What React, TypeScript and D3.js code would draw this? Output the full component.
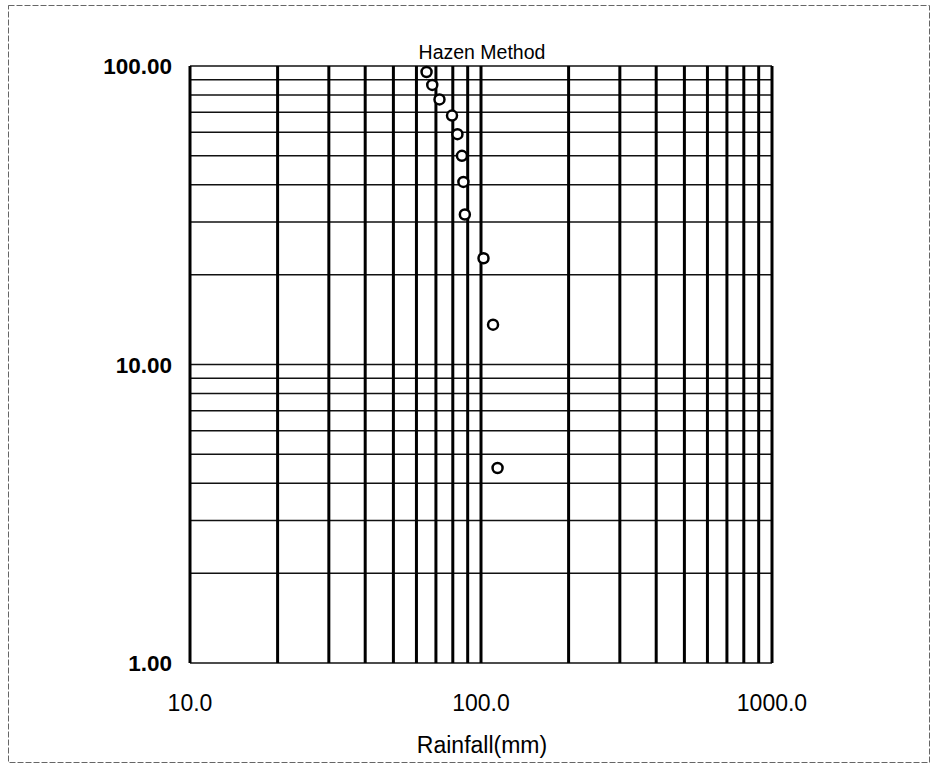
import React, { useEffect, useRef } from "react";
import * as d3 from "d3";

// Hazen plotting positions (%) vs. annual rainfall (mm)
const rainfall = [65, 68, 72, 79.5, 83, 86, 87, 88, 102, 110, 114];
const probability = [95.5, 86.4, 77.3, 68.2, 59.1, 50.0, 40.9, 31.8, 22.7, 13.6, 4.5];

const xTicks = [10, 100, 1000];
const yTicks = [1, 10, 100];
const xGrid = [10, 20, 30, 40, 50, 60, 70, 80, 90, 100, 200, 300, 400, 500, 600, 700, 800, 900, 1000];
const yGrid = [1, 2, 3, 4, 5, 6, 7, 8, 9, 10, 20, 30, 40, 50, 60, 70, 80, 90, 100];

const title = "Hazen Method";
const xTitle = "Rainfall(mm)";

const App = () => {
  const svgRef = useRef<SVGSVGElement>(null);

  useEffect(() => {
    const width = 936;
    const height = 773;
    const left = 190;
    const right = 772;
    const top = 66;
    const bottom = 663;

    const svg = d3.select(svgRef.current);
    svg.selectAll("*").remove();
    svg.attr("width", width).attr("height", height);

    const font = "Arial, 'Liberation Sans', sans-serif";

    // outer frame of the scanned page
    svg
      .append("rect")
      .attr("x", 8.5)
      .attr("y", 5.5)
      .attr("width", 921)
      .attr("height", 757)
      .attr("fill", "white")
      .attr("stroke", "#666")
      .attr("stroke-width", 1)
      .attr("stroke-dasharray", "6 2");

    const x = d3.scaleLog().domain([10, 1000]).range([left, right]);
    const y = d3.scaleLog().domain([1, 100]).range([bottom, top]);

    // horizontal grid
    svg
      .append("g")
      .selectAll("line")
      .data(yGrid)
      .enter()
      .append("line")
      .attr("x1", left)
      .attr("x2", right)
      .attr("y1", (d) => y(d))
      .attr("y2", (d) => y(d))
      .attr("stroke", "#111")
      .attr("stroke-width", 1.5);

    // vertical grid
    svg
      .append("g")
      .selectAll("line")
      .data(xGrid)
      .enter()
      .append("line")
      .attr("x1", (d) => x(d))
      .attr("x2", (d) => x(d))
      .attr("y1", top)
      .attr("y2", bottom)
      .attr("stroke", "#000")
      .attr("stroke-width", 3);

    // y tick labels
    svg
      .append("g")
      .selectAll("text")
      .data(yTicks)
      .enter()
      .append("text")
      .attr("x", 172)
      .attr("y", (d) => y(d))
      .attr("dy", "0.36em")
      .attr("text-anchor", "end")
      .attr("font-family", font)
      .attr("font-weight", "bold")
      .attr("font-size", 22.5)
      .text((d) => d3.format(".2f")(d));

    // x tick labels
    svg
      .append("g")
      .selectAll("text")
      .data(xTicks)
      .enter()
      .append("text")
      .attr("x", (d) => x(d))
      .attr("y", 711)
      .attr("text-anchor", "middle")
      .attr("font-family", font)
      .attr("font-size", 23)
      .text((d) => d3.format(".1f")(d));

    svg
      .append("text")
      .attr("x", 482)
      .attr("y", 59)
      .attr("text-anchor", "middle")
      .attr("font-family", font)
      .attr("font-size", 19.5)
      .text(title);

    svg
      .append("text")
      .attr("x", 482)
      .attr("y", 753)
      .attr("text-anchor", "middle")
      .attr("font-family", font)
      .attr("font-size", 23)
      .text(xTitle);

    // data points
    const data = rainfall.map((r, i) => ({ r, p: probability[i] }));
    svg
      .append("g")
      .selectAll("circle")
      .data(data)
      .enter()
      .append("circle")
      .attr("cx", (d) => x(d.r))
      .attr("cy", (d) => y(d.p))
      .attr("r", 5)
      .attr("fill", "white")
      .attr("stroke", "#000")
      .attr("stroke-width", 2.5);
  }, []);

  return (
    <svg
      ref={svgRef}
      style={{ position: "absolute", left: 0, top: 0, display: "block" }}
    ></svg>
  );
};

export default App;
